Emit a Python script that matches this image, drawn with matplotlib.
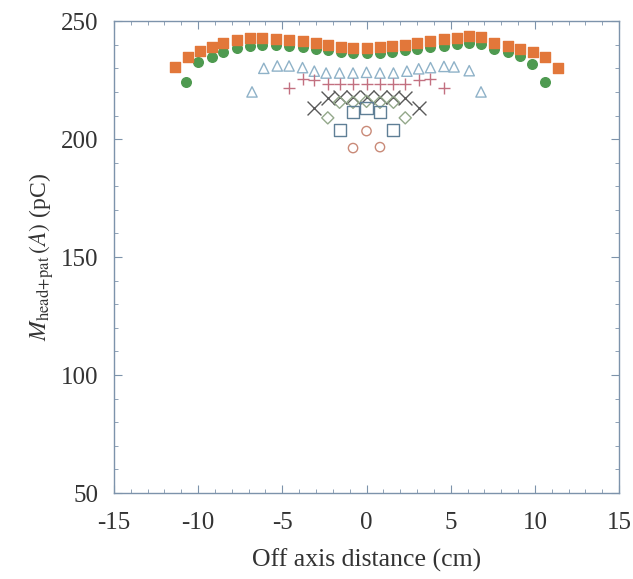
import matplotlib
matplotlib.use('Agg')
import matplotlib.pyplot as plt
from matplotlib.ticker import MultipleLocator

plt.rcParams['font.family'] = ['Liberation Serif', 'DejaVu Serif']
plt.rcParams['mathtext.fontset'] = 'stix'
plt.rcParams['axes.unicode_minus'] = False

# filled squares (outermost series)
sq_x = [-11.4, -10.6, -9.9, -9.2, -8.5, -7.7, -6.9, -6.2, -5.4, -4.6, -3.8, -3.0, -2.3, -1.5, -0.8,
        0.0, 0.8, 1.5, 2.3, 3.0, 3.8, 4.6, 5.4, 6.1, 6.8, 7.6, 8.4, 9.1, 9.9, 10.6, 11.4]
sq_y = [230.5, 234.7, 237.3, 239.0, 240.6, 242.0, 242.8, 242.9, 242.4, 242.0, 241.4, 240.6, 239.8, 239.2, 238.8,
        238.6, 238.9, 239.4, 240.0, 240.6, 241.4, 242.4, 242.8, 243.5, 243.2, 240.7, 239.4, 238.1, 236.9, 234.7, 230.1]

# filled circles
ci_x = [-10.7, -10.0, -9.2, -8.5, -7.7, -6.9, -6.2, -5.4, -4.6, -3.8, -3.0, -2.3, -1.5, -0.8,
        0.0, 0.8, 1.5, 2.3, 3.0, 3.8, 4.6, 5.4, 6.1, 6.8, 7.6, 8.4, 9.1, 9.8, 10.6]
ci_y = [224.2, 232.6, 235.0, 237.0, 238.5, 239.5, 240.0, 240.0, 239.5, 239.0, 238.3, 237.6, 237.0, 236.6,
        236.5, 236.6, 237.0, 237.6, 238.3, 239.0, 239.6, 240.2, 240.6, 240.4, 238.3, 236.8, 235.4, 231.8, 224.2]

# open triangles
tr_x = [-6.8, -6.1, -5.3, -4.6, -3.8, -3.1, -2.4, -1.6, -0.8, 0.0, 0.8, 1.6, 2.4, 3.1, 3.8, 4.6, 5.2, 6.1, 6.8]
tr_y = [220.0, 230.0, 231.0, 231.0, 230.3, 228.8, 228.0, 228.0, 228.0, 228.3, 228.0, 228.0, 228.8, 229.8, 230.3, 230.8, 230.6, 229.0, 220.0]

# plus
pl_x = [-4.6, -3.8, -3.1, -2.3, -1.6, -0.8, 0.0, 0.8, 1.6, 2.3, 3.1, 3.8, 4.6]
pl_y = [221.6, 225.4, 225.0, 223.3, 223.3, 223.3, 223.3, 223.3, 223.3, 223.3, 225.0, 225.4, 221.6]

# crosses
x_x = [-3.1, -2.3, -1.6, -0.8, 0.0, 0.8, 1.6, 2.3, 3.1]
x_y = [213.0, 217.6, 217.8, 217.8, 217.8, 217.8, 217.8, 217.4, 213.0]

# open diamonds
di_x = [-2.3, -1.6, -0.8, 0.0, 0.8, 1.6, 2.3]
di_y = [209.0, 215.6, 215.6, 216.0, 215.6, 215.6, 209.0]

# open squares
os_x = [-1.6, -0.8, 0.0, 0.8, 1.6]
os_y = [203.8, 211.4, 213.0, 211.4, 203.8]

# open circles
oc_x = [-0.8, 0.0, 0.8]
oc_y = [196.2, 203.4, 196.6]

fig = plt.figure(figsize=(6.33, 5.79), dpi=100)
ax = fig.add_axes([0.180, 0.1485, 0.798, 0.815])

ax.scatter(ci_x, ci_y, marker='o', s=48, color='#4e9a50', zorder=3)
ax.scatter(sq_x, sq_y, marker='s', s=60, color='#e2773a', zorder=4)
ax.scatter(tr_x, tr_y, marker='^', s=55, facecolors='none', edgecolors='#8fb2c8', linewidths=1.0, zorder=3)
ax.scatter(pl_x, pl_y, marker='+', s=80, color='#c27080', linewidths=1.0, zorder=3)
ax.scatter(x_x, x_y, marker='x', s=100, color='#5a5a5a', linewidths=1.0, zorder=3)
ax.scatter(di_x, di_y, marker='D', s=38, facecolors='none', edgecolors='#93a88a', linewidths=1.0, zorder=3)
ax.scatter(os_x, os_y, marker='s', s=75, facecolors='none', edgecolors='#5f7f96', linewidths=1.0, zorder=3)
ax.scatter(oc_x, oc_y, marker='o', s=45, facecolors='none', edgecolors='#c98a78', linewidths=1.0, zorder=3)

ax.set_xlim(-15, 15)
ax.set_ylim(50, 250)
ax.xaxis.set_major_locator(MultipleLocator(5))
ax.xaxis.set_minor_locator(MultipleLocator(1))
ax.yaxis.set_major_locator(MultipleLocator(50))
ax.yaxis.set_minor_locator(MultipleLocator(10))

spine_col = '#7d93ab'
for s in ax.spines.values():
    s.set_color(spine_col)
    s.set_linewidth(1.0)
ax.tick_params(which='both', direction='in', top=True, right=True, color=spine_col,
               labelsize=18, labelcolor='#333333')
ax.tick_params(which='major', length=6)
ax.tick_params(which='minor', length=3)
ax.tick_params(axis='y', which='major', pad=11)
ax.tick_params(axis='x', which='major', pad=14)

ax.set_xlabel('Off axis distance (cm)', fontsize=18.5, color='#333333', labelpad=10)
ax.set_ylabel(r'$M_{\mathrm{head\!+\!pat}}\,(A)$ (pC)', fontsize=17, color='#333333')
ax.yaxis.set_label_coords(-0.115, 0.5)

fig.savefig('out.png', dpi=100)
